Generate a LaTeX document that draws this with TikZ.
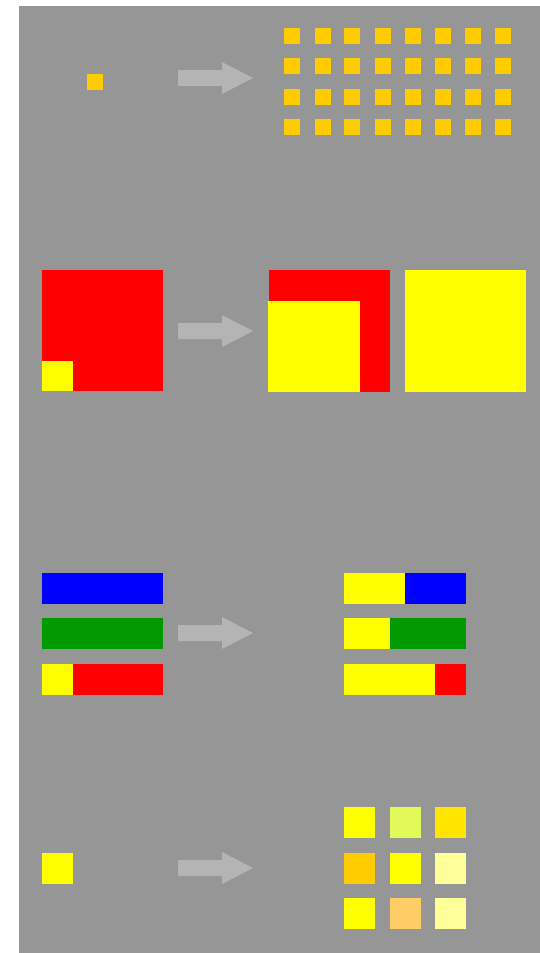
\documentclass[tikz,border=0pt]{standalone}
\definecolor{bg}{RGB}{150,150,150}
\definecolor{arr}{RGB}{180,180,180}
\definecolor{gold}{RGB}{255,204,0}
\definecolor{yel}{RGB}{255,255,0}
\definecolor{red}{RGB}{255,0,0}
\definecolor{blu}{RGB}{0,0,255}
\definecolor{grn}{RGB}{0,153,0}
\definecolor{lime}{RGB}{227,249,90}
\definecolor{amber}{RGB}{255,229,0}
\definecolor{pale}{RGB}{255,255,153}
\definecolor{peach}{RGB}{255,204,102}
\begin{document}
\begin{tikzpicture}[x=1pt,y=-1pt,
  blk/.style={fill=#1,draw=none}]
\useasboundingbox (0,0) rectangle (540,953);
\fill[bg] (19,6) rectangle (540,953);
% arrows
\foreach \cy in {78,331,633,868}{
  \fill[arr] (178,\cy-8) -- (222,\cy-8) -- (222,\cy-16) -- (253,\cy) -- (222,\cy+16) -- (222,\cy+8) -- (178,\cy+8) -- cycle;
}
% section 1
\fill[blk=gold] (87,74) rectangle (103,90);
\foreach \x in {284,315,344,375,405,435,465,495}{
  \foreach \y in {28,58,89,119}{
    \fill[blk=gold] (\x,\y) rectangle (\x+16,\y+16);
  }
}
% section 2
\fill[blk=red] (42,270) rectangle (163,391);
\fill[blk=yel] (42,361) rectangle (73,391);
\fill[blk=red] (269,270) rectangle (390,392);
\fill[blk=yel] (268,301) rectangle (360,392);
\fill[blk=yel] (405,270) rectangle (526,392);
% section 3
\fill[blk=blu] (42,573) rectangle (163,604);
\fill[blk=grn] (42,618) rectangle (163,649);
\fill[blk=red] (42,664) rectangle (163,695);
\fill[blk=yel] (42,664) rectangle (73,695);
\fill[blk=yel] (344,573) rectangle (405,604);
\fill[blk=blu] (405,573) rectangle (466,604);
\fill[blk=yel] (344,618) rectangle (390,649);
\fill[blk=grn] (390,618) rectangle (466,649);
\fill[blk=yel] (344,664) rectangle (435,695);
\fill[blk=red] (435,664) rectangle (466,695);
% section 4
\fill[blk=yel] (42,853) rectangle (73,884);
\fill[blk=yel] (344,807) rectangle (375,838);
\fill[blk=lime] (390,807) rectangle (421,838);
\fill[blk=amber] (435,807) rectangle (466,838);
\fill[blk=gold] (344,853) rectangle (375,884);
\fill[blk=yel] (390,853) rectangle (421,884);
\fill[blk=pale] (435,853) rectangle (466,884);
\fill[blk=yel] (344,898) rectangle (375,929);
\fill[blk=peach] (390,898) rectangle (421,929);
\fill[blk=pale] (435,898) rectangle (466,929);
\end{tikzpicture}
\end{document}
